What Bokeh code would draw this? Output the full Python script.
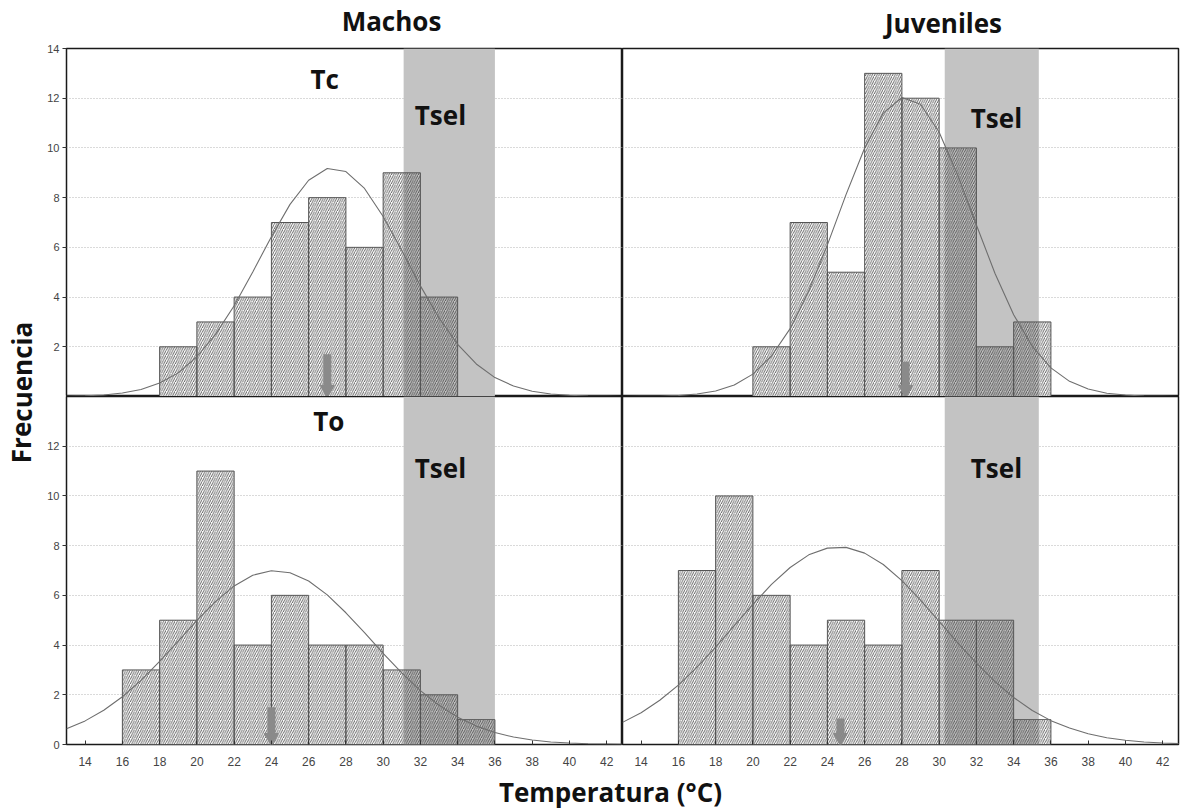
from bokeh.plotting import figure
from bokeh.layouts import row, column
from bokeh.models import Range1d, FixedTicker, Label, ColumnDataSource
from bokeh.embed import file_html
from bokeh.resources import INLINE

# ---------------- data ----------------
bin_width = 2
# Machos - Tc (top left)
tc_edges = [18, 20, 22, 24, 26, 28, 30, 32]
tc_counts = [2, 3, 4, 7, 8, 6, 9, 4]
# Juveniles - Tc (top right)
juv_tc_edges = [20, 22, 24, 26, 28, 30, 32, 34]
juv_tc_counts = [2, 7, 5, 13, 12, 10, 2, 3]
# Machos - To (bottom left)
to_edges = [16, 18, 20, 22, 24, 26, 28, 30, 32, 34]
to_counts = [3, 5, 11, 4, 6, 4, 4, 3, 2, 1]
# Juveniles - To (bottom right)
juv_to_edges = [16, 18, 20, 22, 24, 26, 28, 30, 32, 34]
juv_to_counts = [7, 10, 6, 4, 5, 4, 7, 5, 5, 1]

# fitted normal curves, read at each whole degree
curve_x = [13, 14, 15, 16, 17, 18, 19, 20, 21, 22, 23, 24, 25, 26, 27, 28,
           29, 30, 31, 32, 33, 34, 35, 36, 37, 38, 39, 40, 41, 42, 43]
tc_curve = [0.01, 0.03, 0.06, 0.14, 0.28, 0.54, 0.95, 1.60, 2.50, 3.65, 5.01,
            6.43, 7.73, 8.70, 9.17, 9.05, 8.37, 7.24, 5.87, 4.45, 3.16, 2.10,
            1.31, 0.76, 0.42, 0.21, 0.10, 0.05, 0.02, 0.01, 0.00]
juv_tc_curve = [0.00, 0.01, 0.01, 0.04, 0.10, 0.22, 0.46, 0.90, 1.63, 2.73, 4.25,
                6.10, 8.12, 10.00, 11.40, 12.03, 11.76, 10.63, 8.90, 6.90, 4.95,
                3.29, 2.02, 1.15, 0.61, 0.30, 0.13, 0.06, 0.02, 0.01, 0.00]
to_curve = [0.63, 0.95, 1.38, 1.92, 2.58, 3.34, 4.16, 4.99, 5.75, 6.38, 6.81,
            6.99, 6.91, 6.58, 6.02, 5.30, 4.50, 3.67, 2.88, 2.17, 1.58, 1.10,
            0.74, 0.48, 0.30, 0.18, 0.10, 0.06, 0.03, 0.02, 0.01]
juv_to_curve = [0.89, 1.28, 1.78, 2.39, 3.11, 3.92, 4.78, 5.64, 6.44, 7.12, 7.63,
                7.90, 7.93, 7.70, 7.24, 6.59, 5.81, 4.95, 4.09, 3.27, 2.53, 1.89,
                1.37, 0.96, 0.66, 0.43, 0.27, 0.17, 0.10, 0.06, 0.03]

# selected temperature range (Tsel) per column
tsel_machos = (31.1, 36.0)
tsel_juveniles = (30.3, 35.35)

# mean markers (arrows): position and height
arrow_x = [27.0, 28.2, 24.0, 24.7]
arrow_top = [1.7, 1.4, 1.5, 1.05]

x_ticks = [14, 16, 18, 20, 22, 24, 26, 28, 30, 32, 34, 36, 38, 40, 42]
y_ticks_top = [2, 4, 6, 8, 10, 12, 14]
y_ticks_bottom = [0, 2, 4, 6, 8, 10, 12]

col_titles = ["Machos", "Juveniles"]
row_tags = ["Tc", "To"]
band_tag = "Tsel"
x_title = "Temperatura (°C)"
y_title = "Frecuencia"

# ---------------- styling ----------------
BOLD = "Open Sans"
TICKF = "Liberation Sans"
GRAY_BAND = "#c3c3c3"
FRAME_W, FRAME_H = 556, 348
YLAB_W = 40
TOP_H = 40


def bold_label(**kw):
    return Label(text_font=BOLD, text_font_style="bold", text_font_size="26px",
                 text_color="#111111", text_baseline="middle", **kw)


def make_panel(edges, counts, curve_y, tsel, ax, atop, top_row, left_col,
               tsel_y, tag_x=None, tag_y=None, tag=None):
    p = figure(frame_width=FRAME_W, frame_height=FRAME_H,
               x_range=Range1d(13.0, 42.85), y_range=Range1d(0, 14),
               output_backend="svg", toolbar_location=None,
               x_axis_location=None if top_row else "below",
               y_axis_location="left" if left_col else None,
               min_border_left=26 if left_col else 0,
               min_border_right=0 if left_col else 4,
               min_border_top=8 if top_row else 0,
               min_border_bottom=0 if top_row else 28)
    p.background_fill_color = "white"
    p.border_fill_color = "white"
    p.outline_line_color = "#1a1a1a"
    p.outline_line_width = 1.5

    p.xgrid.visible = False
    p.ygrid.ticker = FixedTicker(ticks=y_ticks_top if top_row else y_ticks_bottom)
    p.ygrid.grid_line_color = "#b4b4b4"
    p.ygrid.grid_line_dash = "1 2"
    p.ygrid.grid_line_width = 1

    if not top_row:
        xa = p.xaxis[0]
        xa.ticker = FixedTicker(ticks=x_ticks)
        xa.axis_line_color = None
        xa.major_tick_in = 4
        xa.major_tick_out = 0
        xa.major_tick_line_color = "#333333"
        xa.minor_tick_line_color = None
        xa.major_label_text_font = TICKF
        xa.major_label_text_font_size = "12px"
        xa.major_label_text_color = "#444444"
        xa.major_label_standoff = 12

    if left_col:
        ya = p.yaxis[0]
        ya.ticker = FixedTicker(ticks=y_ticks_top if top_row else y_ticks_bottom)
        ya.axis_line_color = None
        ya.major_tick_in = 0
        ya.major_tick_out = 4
        ya.major_tick_line_color = "#333333"
        ya.minor_tick_line_color = None
        ya.major_label_text_font = TICKF
        ya.major_label_text_font_size = "11px"
        ya.major_label_text_color = "#444444"
        ya.major_label_standoff = 3

    rights = [e + bin_width for e in edges]
    src = ColumnDataSource(dict(left=edges, right=rights, top=counts,
                                bottom=[0] * len(edges)))
    # white bodies of the bars (hide the grid)
    p.quad(left="left", right="right", top="top", bottom="bottom", source=src,
           fill_color="white", line_color=None)
    # Tsel band
    p.quad(left=[tsel[0]], right=[tsel[1]], top=[14], bottom=[0],
           fill_color=GRAY_BAND, line_color=None)
    # hatched bars
    p.quad(left="left", right="right", top="top", bottom="bottom", source=src,
           fill_color=None, hatch_pattern="/", hatch_color="#3c3c3c",
           hatch_scale=4.5, hatch_weight=0.8,
           line_color="#555555", line_width=1)
    # normal curve
    p.line(curve_x, curve_y, line_color="#6e6e6e", line_width=1.1)
    # mean arrow
    p.segment(x0=[ax], y0=[atop], x1=[ax], y1=[0.45],
              line_color="#8a8a8a", line_width=8)
    p.scatter(x=[ax], y=[0.28], marker="inverted_triangle", size=14,
              fill_color="#8a8a8a", line_color="#8a8a8a")

    # texts inside the frame
    p.add_layout(bold_label(x=31.7, y=tsel_y, text=band_tag, text_align="left"))
    if tag is not None:
        p.add_layout(bold_label(x=tag_x, y=tag_y, text=tag, text_align="left"))
    return p


p_tl = make_panel(tc_edges, tc_counts, tc_curve, tsel_machos,
                  arrow_x[0], arrow_top[0], True, True, 11.32,
                  26.1, 12.77, row_tags[0])
p_tr = make_panel(juv_tc_edges, juv_tc_counts, juv_tc_curve, tsel_juveniles,
                  arrow_x[1], arrow_top[1], True, False, 11.19)
p_bl = make_panel(to_edges, to_counts, to_curve, tsel_machos,
                  arrow_x[2], arrow_top[2], False, True, 11.11,
                  26.25, 13.0, row_tags[1])
p_br = make_panel(juv_to_edges, juv_to_counts, juv_to_curve, tsel_juveniles,
                  arrow_x[3], arrow_top[3], False, False, 11.11)


def strip(w, h):
    s = figure(width=w, height=h, x_range=Range1d(0, 1), y_range=Range1d(0, 1),
               x_axis_type=None, y_axis_type=None, output_backend="svg",
               toolbar_location=None, min_border=0,
               min_border_left=0, min_border_right=0,
               min_border_top=0, min_border_bottom=0)
    s.outline_line_color = None
    s.xgrid.visible = False
    s.ygrid.visible = False
    return s


grid_w = 1182 - YLAB_W                               # 1142
rows_h = TOP_H + (8 + FRAME_H) + (FRAME_H + 28)      # 772

# column titles
top = strip(grid_w, TOP_H)
top.add_layout(bold_label(x=391 - YLAB_W, y=19.5, x_units="screen",
                          y_units="screen", text=col_titles[0],
                          text_align="center"))
top.add_layout(bold_label(x=943 - YLAB_W, y=17.5, x_units="screen",
                          y_units="screen", text=col_titles[1],
                          text_align="center"))

# y title
ylab = strip(YLAB_W, rows_h)
ylab.add_layout(bold_label(x=21, y=rows_h - 392, x_units="screen",
                           y_units="screen", text=y_title, angle=1.5707963,
                           text_align="center"))
# x title
xlab = strip(1182, 812 - rows_h)
xlab.add_layout(bold_label(x=610, y=(812 - rows_h) / 2 + 1, x_units="screen",
                           y_units="screen", text=x_title,
                           text_align="center"))

layout = column(row(ylab, column(top, row(p_tl, p_tr), row(p_bl, p_br))), xlab)

open("out.html", "w").write(file_html(layout, INLINE))
